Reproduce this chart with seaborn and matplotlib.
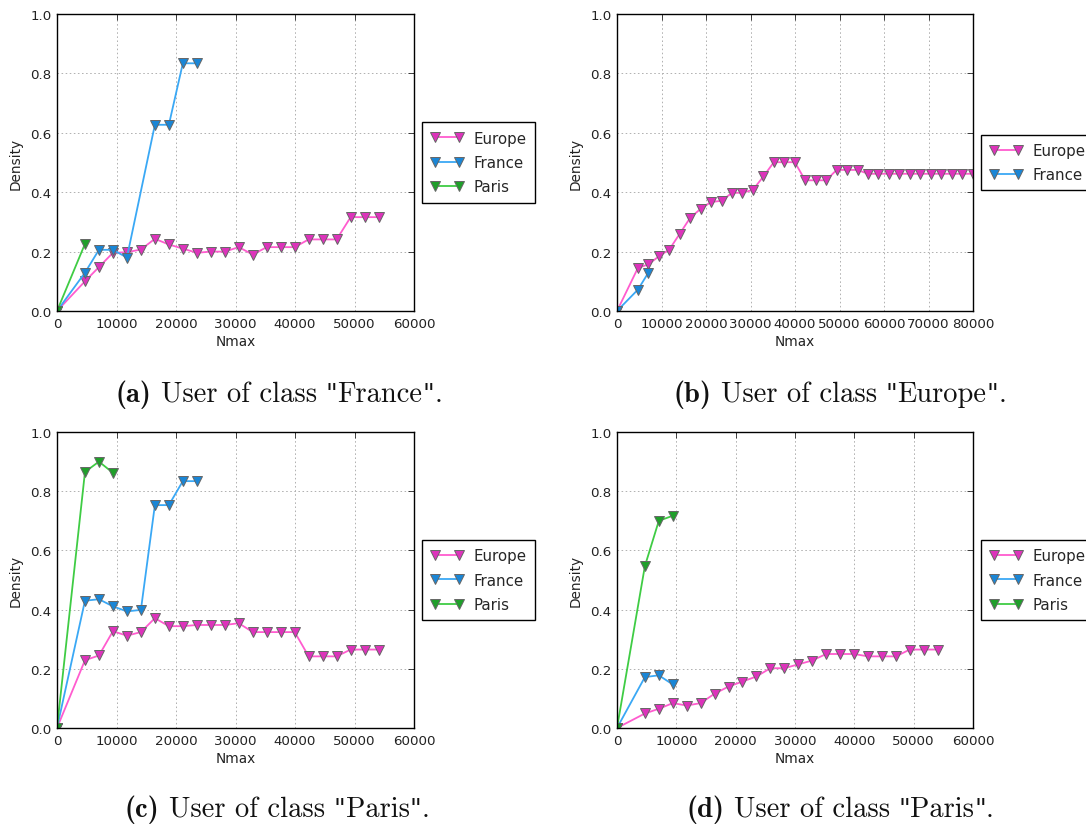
import matplotlib
matplotlib.use("Agg")
import matplotlib.pyplot as plt
import seaborn as sns
from matplotlib.offsetbox import TextArea, HPacker, AnnotationBbox

# Nmax sampling grid shared by every panel
nmax = [0, 4700, 7050, 9400, 11750, 14100, 16450, 18800, 21150, 23500,
        25850, 28200, 30550, 32900, 35250, 37600, 39950, 42300, 44650,
        47000, 49350, 51700, 54050, 56400, 58750, 61100, 63450, 65800,
        68150, 70500, 72850, 75200, 77550, 79900]

# (a) user of class "France"
a_europe_x = nmax[:23]
a_europe_y = [0.0, 0.10, 0.148, 0.196, 0.198, 0.207, 0.243, 0.224, 0.21, 0.196,
              0.20, 0.20, 0.215, 0.19, 0.215, 0.215, 0.215, 0.241, 0.241, 0.241,
              0.316, 0.316, 0.316]
a_france_x = [0, 4700, 7050, 9400, 11750, 16450, 18800, 21150, 23500]
a_france_y = [0.0, 0.129, 0.206, 0.206, 0.18, 0.627, 0.627, 0.834, 0.834]
a_paris_x = [0, 4700]
a_paris_y = [0.0, 0.226]

# (b) user of class "Europe"
b_europe_x = nmax
b_europe_y = [0.0, 0.145, 0.157, 0.184, 0.207, 0.26, 0.314, 0.344, 0.367, 0.371,
              0.398, 0.398, 0.408, 0.453, 0.501, 0.501, 0.501, 0.44, 0.44, 0.44,
              0.475, 0.475, 0.475, 0.462, 0.462, 0.462, 0.462, 0.462, 0.462,
              0.462, 0.462, 0.462, 0.462, 0.462]
b_france_x = [0, 4700, 7050]
b_france_y = [0.0, 0.072, 0.129]

# (c) user of class "Paris"
c_europe_x = nmax[:23]
c_europe_y = [0.0, 0.229, 0.245, 0.327, 0.312, 0.324, 0.371, 0.344, 0.344, 0.348,
              0.348, 0.348, 0.354, 0.324, 0.324, 0.324, 0.324, 0.242, 0.242, 0.242,
              0.265, 0.265, 0.265]
c_france_x = nmax[:10]
c_france_y = [0.0, 0.43, 0.435, 0.411, 0.394, 0.399, 0.753, 0.753, 0.834, 0.834]
c_paris_x = [0, 4700, 7050, 9400]
c_paris_y = [0.0, 0.865, 0.90, 0.862]

# (d) user of class "Paris"
d_europe_x = nmax[:23]
d_europe_y = [0.0, 0.049, 0.065, 0.084, 0.076, 0.084, 0.116, 0.14, 0.157, 0.174,
              0.202, 0.202, 0.215, 0.228, 0.25, 0.25, 0.25, 0.242, 0.242, 0.242,
              0.265, 0.265, 0.265]
d_france_x = [0, 4700, 7050, 9400]
d_france_y = [0.0, 0.172, 0.178, 0.147]
d_paris_x = [0, 4700, 7050, 9400]
d_paris_y = [0.0, 0.547, 0.70, 0.717]

caption_tags = ["(a)", "(b)", "(c)", "(d)"]
caption_classes = ["France", "Europe", "Paris", "Paris"]

styles = {
    "Europe": dict(color="#ff5ccf", mfc="#dd33bb"),
    "France": dict(color="#3aa8f5", mfc="#1a86d6"),
    "Paris": dict(color="#3fcc44", mfc="#1f9f2a"),
}

panels = [
    dict(series=[("Europe", a_europe_x, a_europe_y),
                 ("France", a_france_x, a_france_y),
                 ("Paris", a_paris_x, a_paris_y)],
         xmax=60000, box=(57, 15, 414, 312), cap=(279, 395)),
    dict(series=[("Europe", b_europe_x, b_europe_y),
                 ("France", b_france_x, b_france_y)],
         xmax=80000, box=(617, 15, 973, 312), cap=(840, 395)),
    dict(series=[("Europe", c_europe_x, c_europe_y),
                 ("France", c_france_x, c_france_y),
                 ("Paris", c_paris_x, c_paris_y)],
         xmax=60000, box=(57, 433, 414, 729), cap=(277, 810)),
    dict(series=[("Europe", d_europe_x, d_europe_y),
                 ("France", d_france_x, d_france_y),
                 ("Paris", d_paris_x, d_paris_y)],
         xmax=60000, box=(617, 433, 973, 729), cap=(840, 810)),
]

sns.set_theme(style="white")
plt.rcParams.update({
    "font.family": ["DejaVu Sans"],
    "xtick.direction": "in",
    "ytick.direction": "in",
    "xtick.top": True,
    "ytick.right": True,
    "xtick.major.size": 4,
    "ytick.major.size": 4,
    "xtick.major.width": 0.6,
    "ytick.major.width": 0.6,
    "xtick.color": "#222222",
    "ytick.color": "#222222",
})

W, H = 1086, 828
fig = plt.figure(figsize=(W / 100, H / 100), dpi=100)
fig.patch.set_facecolor("white")

CAP_SIZE = 20.5
reg = dict(family="cmr10", size=CAP_SIZE, color="#111111")
bold = dict(family="cmb10", size=CAP_SIZE, color="#111111")
quote = dict(family="DejaVu Serif", size=CAP_SIZE * 0.9, color="#111111")


def caption_box(tag, cls):
    """Subfigure caption: bold tag, then roman text with straight quotes."""
    quoted = HPacker(children=[TextArea('"', textprops=quote),
                               TextArea(cls, textprops=reg),
                               TextArea('"', textprops=quote),
                               TextArea(".", textprops=reg)],
                     sep=0, pad=0, align="baseline")
    body = HPacker(children=[TextArea("User of class", textprops=reg), quoted],
                   sep=6, pad=0, align="baseline")
    return HPacker(children=[TextArea(tag, textprops=bold), body],
                   sep=7, pad=0, align="baseline")


for i, p in enumerate(panels):
    l, t, r, b = p["box"]
    ax = fig.add_axes([l / W, 1 - b / H, (r - l) / W, (b - t) / H])
    for name, xs, ys in p["series"]:
        st = styles[name]
        sns.lineplot(x=xs, y=ys, ax=ax, sort=False, errorbar=None,
                     color=st["color"], lw=1.3, marker="v", markersize=6.5,
                     markerfacecolor=st["mfc"], markeredgecolor="#666666",
                     markeredgewidth=0.7, label=name)
    ax.set_xlim(0, p["xmax"])
    ax.set_ylim(0, 1.0)
    ax.set_xticks(range(0, p["xmax"] + 1, 10000))
    ax.set_yticks([0.0, 0.2, 0.4, 0.6, 0.8, 1.0])
    ax.set_yticklabels(["0.0", "0.2", "0.4", "0.6", "0.8", "1.0"])
    ax.tick_params(labelsize=9.6, pad=4)
    ax.grid(True, color="#b0b0b0", linestyle=(0, (1.6, 2.6)), linewidth=0.7)
    for s in ax.spines.values():
        s.set_color("black")
        s.set_linewidth(1.0)
    ax.set_xlabel("Nmax", fontsize=9.8, color="#222222", labelpad=3)
    ax.set_ylabel("Density", fontsize=9.8, color="#222222", labelpad=5)
    leg = ax.legend(loc="center left", bbox_to_anchor=(1.022, 0.5),
                    numpoints=2, handlelength=2.2, fontsize=10.8,
                    frameon=True, fancybox=False, borderpad=0.55,
                    labelspacing=0.62, handletextpad=0.7, borderaxespad=0)
    fr = leg.get_frame()
    fr.set_edgecolor("black")
    fr.set_linewidth(1.0)
    fr.set_facecolor("white")
    fr.set_alpha(1)

    cx, cy = p["cap"]
    ab = AnnotationBbox(caption_box(caption_tags[i], caption_classes[i]),
                        (cx / W, 1 - cy / H), xycoords="figure fraction",
                        box_alignment=(0.5, 0.5), frameon=False, pad=0)
    fig.add_artist(ab)

fig.savefig("out.png", dpi=100, facecolor="white")
